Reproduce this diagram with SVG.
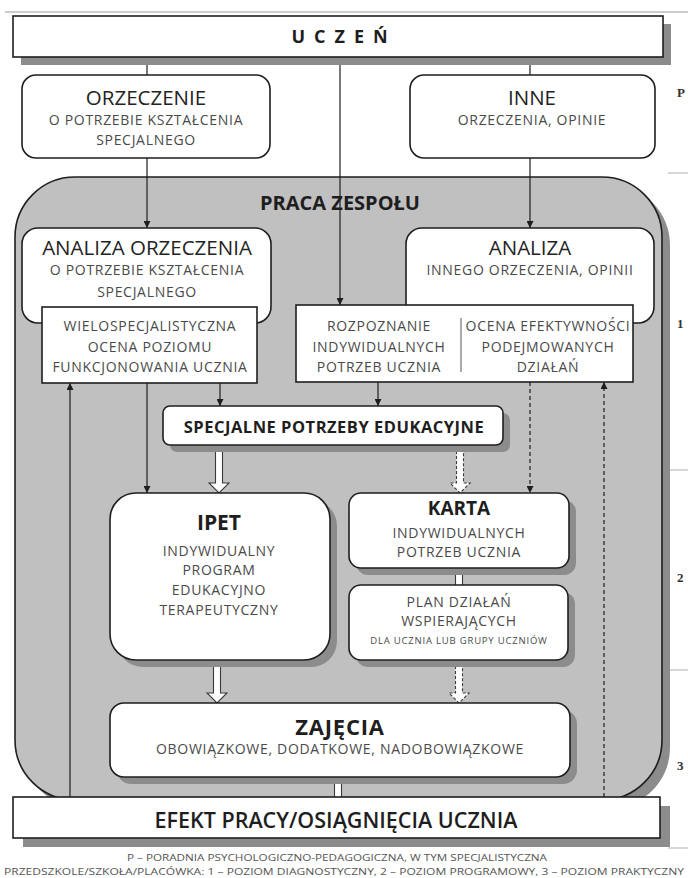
<svg xmlns="http://www.w3.org/2000/svg" width="688" height="878" viewBox="0 0 688 878">
<style>
.box{fill:#fff;stroke:#1e1e1e;stroke-width:1.6}
.sh{fill:#8c8c8c}
.t{font-family:"Open Sans","Noto Sans",sans-serif;text-anchor:middle}
.ti{font-size:20.5px;fill:#232323}
.s{font-size:14px;fill:#4a4a4a;letter-spacing:0.7px}
.b{font-weight:700;fill:#1e1e1e}
.ln{stroke:#1e1e1e;stroke-width:1.2;fill:none}
.dash{stroke-dasharray:4 3}
.blk{fill:#fff;stroke:#3a3a3a;stroke-width:1.1}
.bd{stroke-dasharray:3 2}
.sep{stroke:#bbbbbb;stroke-width:1.2}
.lv{font-family:"Liberation Serif",serif;font-weight:700;font-size:13px;fill:#333}
.ft{font-family:"Open Sans","Noto Sans",sans-serif;font-size:9.5px;fill:#555}
</style>
<defs>
<marker id="ah" viewBox="0 0 8 8" refX="8" refY="4" markerWidth="7" markerHeight="7" markerUnits="userSpaceOnUse" orient="auto">
<path d="M0,0 L8,4 L0,8 z" fill="#1e1e1e"/>
</marker>
</defs>
<rect width="688" height="878" fill="#fff"/>
<line x1="5" y1="12" x2="688" y2="12" stroke="#999" stroke-width="1.2"/>
<g id="levels">
<line class="sep" x1="668" y1="173" x2="688" y2="173"/>
<line class="sep" x1="668" y1="470" x2="688" y2="470"/>
<line class="sep" x1="668" y1="670" x2="688" y2="670"/>
<line class="sep" x1="668" y1="848" x2="688" y2="848"/>
<text class="lv" x="677" y="97">P</text>
<text class="lv" x="677" y="328">1</text>
<text class="lv" x="677" y="582">2</text>
<text class="lv" x="677" y="770">3</text>
</g>
<g id="praca">
<rect class="sh" x="23" y="185" width="647" height="623" rx="60"/>
<rect x="15" y="177" width="647" height="623" rx="60" fill="#c0c0c0" stroke="#1e1e1e" stroke-width="1.6"/>
<text class="t b" x="340" y="210" font-size="20">PRACA ZESPOŁU</text>
</g>
<g id="connectors">
<line class="ln" x1="147" y1="57" x2="147" y2="75"/>
<line class="ln" x1="530" y1="57" x2="530" y2="75"/>
<line class="ln" x1="340" y1="57" x2="340" y2="305" marker-end="url(#ah)"/>
<line class="ln" x1="147" y1="158" x2="147" y2="228" marker-end="url(#ah)"/>
<line class="ln" x1="530" y1="158" x2="530" y2="228" marker-end="url(#ah)"/>
<line class="ln" x1="70" y1="797" x2="70" y2="383" marker-end="url(#ah)"/>
<line class="ln" x1="147" y1="383" x2="147" y2="493" marker-end="url(#ah)"/>
<line class="ln" x1="220" y1="383" x2="220" y2="406" marker-end="url(#ah)"/>
<line class="ln" x1="378" y1="382" x2="378" y2="406" marker-end="url(#ah)"/>
<line class="ln dash" x1="530" y1="382" x2="530" y2="493" marker-end="url(#ah)"/>
<line class="ln dash" x1="604" y1="797" x2="604" y2="382" marker-end="url(#ah)"/>
<path class="blk" d="M215.5 446 V483 H209 L219 493 L229 483 H222.5 V446"/>
<path class="blk bd" d="M456.5 446 V483 H450 L460 493 L470 483 H463.5 V446"/>
<rect x="455.5" y="569" width="7" height="16" fill="#fff"/>
<path d="M455.5 569 V585 M462.5 569 V585" stroke="#3a3a3a" stroke-width="1.1" fill="none"/>
<path class="blk" d="M213.5 661 V693 H207 L217 703 L227 693 H220.5 V661"/>
<path class="blk bd" d="M455.5 661 V693 H449 L459 703 L469 693 H462.5 V661"/>
<rect x="334.5" y="778" width="7" height="19" fill="#fff"/>
<path d="M334.5 778 V797 M341.5 778 V797" stroke="#3a3a3a" stroke-width="1.1" fill="none"/>
</g>
<g id="uczen">
<rect class="sh" x="21" y="24" width="650" height="41"/>
<rect class="box" x="13" y="16" width="650" height="41"/>
<text class="t b" x="344" y="43" font-size="18" letter-spacing="9">UCZEŃ</text>
</g>
<g id="orzeczenie">
<rect class="box" x="22" y="75" width="248" height="83" rx="14"/>
<text class="t ti" x="146" y="105">ORZECZENIE</text>
<text class="t s" x="146" y="125">O POTRZEBIE KSZTAŁCENIA</text>
<text class="t s" x="146" y="145">SPECJALNEGO</text>
</g>
<g id="inne">
<rect class="box" x="410" y="75" width="245" height="83" rx="14"/>
<text class="t ti" x="532" y="105">INNE</text>
<text class="t s" x="532" y="125">ORZECZENIA, OPINIE</text>
</g>
<g id="analiza-orzeczenia">
<rect class="box" x="22" y="228" width="249" height="95" rx="16"/>
<text class="t ti" x="147" y="255">ANALIZA ORZECZENIA</text>
<text class="t s" x="147" y="275">O POTRZEBIE KSZTAŁCENIA</text>
<text class="t s" x="147" y="297">SPECJALNEGO</text>
</g>
<g id="wielospecjalistyczna">
<rect class="box" x="42" y="307" width="215" height="76"/>
<text class="t s" x="150" y="331">WIELOSPECJALISTYCZNA</text>
<text class="t s" x="150" y="352">OCENA POZIOMU</text>
<text class="t s" x="150" y="372">FUNKCJONOWANIA UCZNIA</text>
</g>
<g id="analiza-innego">
<rect class="box" x="406" y="228" width="248" height="95" rx="16"/>
<text class="t ti" x="530" y="255">ANALIZA</text>
<text class="t s" x="530" y="275">INNEGO ORZECZENIA, OPINII</text>
</g>
<g id="rozpoznanie">
<rect class="box" x="296" y="305" width="337" height="77"/>
<line x1="461" y1="318" x2="461" y2="372" stroke="#555" stroke-width="1"/>
<text class="t s" x="379" y="331">ROZPOZNANIE</text>
<text class="t s" x="379" y="352">INDYWIDUALNYCH</text>
<text class="t s" x="379" y="372">POTRZEB UCZNIA</text>
<text class="t s" x="548" y="331">OCENA EFEKTYWNOŚCI</text>
<text class="t s" x="548" y="352">PODEJMOWANYCH</text>
<text class="t s" x="548" y="372">DZIAŁAŃ</text>
</g>
<g id="spe">
<rect class="sh" x="170" y="413" width="340" height="39" rx="7"/>
<rect class="box" x="163" y="406" width="340" height="39" rx="7"/>
<text class="t b" x="334" y="433" font-size="16.5" letter-spacing="0.5">SPECJALNE POTRZEBY EDUKACYJNE</text>
</g>
<g id="ipet">
<rect class="sh" x="117" y="500" width="220" height="167" rx="26"/>
<rect class="box" x="110" y="493" width="220" height="167" rx="26"/>
<text class="t b" x="219" y="530" font-size="21">IPET</text>
<text class="t s" x="219" y="556">INDYWIDUALNY</text>
<text class="t s" x="219" y="575">PROGRAM</text>
<text class="t s" x="219" y="595">EDUKACYJNO</text>
<text class="t s" x="219" y="615">TERAPEUTYCZNY</text>
</g>
<g id="karta">
<rect class="sh" x="356" y="500" width="220" height="75" rx="12"/>
<rect class="box" x="349" y="493" width="220" height="75" rx="12"/>
<text class="t b" x="459" y="515" font-size="19">KARTA</text>
<text class="t s" x="459" y="538">INDYWIDUALNYCH</text>
<text class="t s" x="459" y="557">POTRZEB UCZNIA</text>
</g>
<g id="plan">
<rect class="sh" x="356" y="592" width="219" height="75" rx="12"/>
<rect class="box" x="349" y="585" width="219" height="75" rx="12"/>
<text class="t s" x="459" y="607">PLAN DZIAŁAŃ</text>
<text class="t s" x="459" y="626">WSPIERAJĄCYCH</text>
<text class="t s" x="459" y="644" style="font-size:9.5px;letter-spacing:0.8px">DLA UCZNIA LUB GRUPY UCZNIÓW</text>
</g>
<g id="zajecia">
<rect class="sh" x="117" y="710" width="460" height="74" rx="14"/>
<rect class="box" x="110" y="703" width="460" height="74" rx="14"/>
<text class="t b" x="340" y="735" font-size="22" letter-spacing="0.8">ZAJĘCIA</text>
<text class="t s" x="340" y="754">OBOWIĄZKOWE, DODATKOWE, NADOBOWIĄZKOWE</text>
</g>
<g id="efekt">
<rect class="sh" x="23" y="806" width="647" height="41"/>
<rect class="box" x="13" y="797" width="647" height="41"/>
<text class="t" x="336" y="828" font-size="21.5" font-weight="600" fill="#1e1e1e">EFEKT PRACY/OSIĄGNIĘCIA UCZNIA</text>
</g>
<g id="footer">
<text class="ft" x="337" y="861" text-anchor="middle" textLength="420" lengthAdjust="spacingAndGlyphs">P – PORADNIA PSYCHOLOGICZNO-PEDAGOGICZNA, W TYM SPECJALISTYCZNA</text>
<text class="ft" x="4" y="875" textLength="680" lengthAdjust="spacingAndGlyphs">PRZEDSZKOLE/SZKOŁA/PLACÓWKA: 1 – POZIOM DIAGNOSTYCZNY, 2 – POZIOM PROGRAMOWY, 3 – POZIOM PRAKTYCZNY</text>
</g>
</svg>
